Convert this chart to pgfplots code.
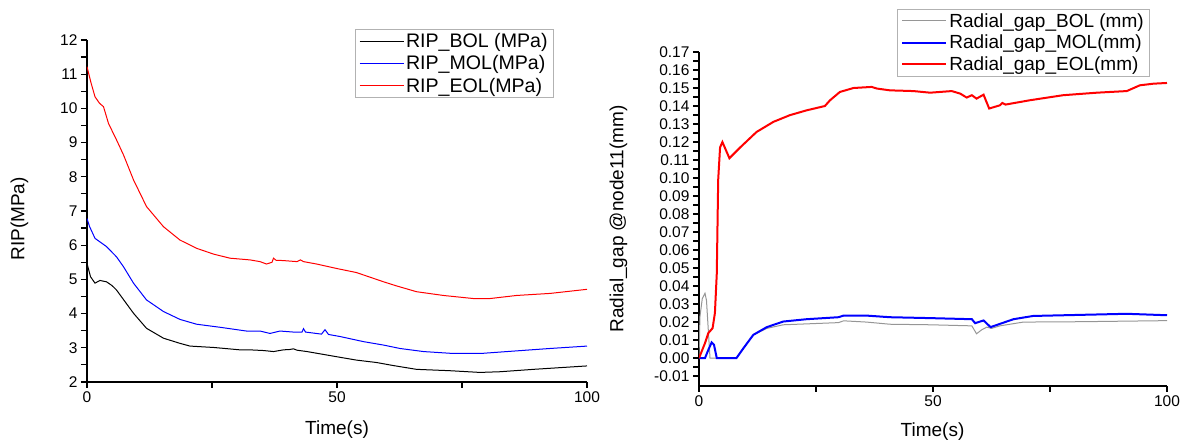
\documentclass[border=0pt]{standalone}
\usepackage{pgfplots}
\pgfplotsset{compat=1.18}
\usepackage{fontspec}
\setmainfont{Liberation Sans}
\newcommand{\tickfont}{\fontsize{15.5}{17}\selectfont}
\newcommand{\labfont}{\fontsize{19}{22}\selectfont}
\definecolor{bolgray}{RGB}{150,150,150}
\pgfplotsset{
 legend image code/.code={\draw[#1] (0pt,0pt) -- (44pt,0pt);},
 mystyle/.style={
  scale only axis,
  axis lines=left,
  axis line style={-, line width=1.2pt},
  tick align=outside,
  major tick length=6pt, minor tick length=6pt,
  tick style={black, line width=1.2pt},
  tick label style={font=\tickfont},
  /pgf/number format/assume math mode=true,
  xmin=0, xmax=100,
  xtick={0,25,50,75,100},
  xticklabels={0,,50,,100},
  label style={font=\labfont},
  legend cell align=left,
  legend style={draw=gray!60, line width=0.8pt, inner xsep=4pt, inner ysep=2pt, row sep=2.5pt},
 }
}
\begin{document}
\begin{tikzpicture}
\useasboundingbox (0,0) rectangle (1197pt,444pt);
\begin{axis}[mystyle,
  at={(87pt,62pt)}, anchor=south west,
  width=500pt, height=342pt,
  ymin=2, ymax=12, ytick={2,3,4,5,6,7,8,9,10,11,12},
  minor y tick num=1,
  xlabel={Time(s)}, ylabel={RIP(MPa)},
  xlabel style={at={(axis description cs:0.5,-0.14)}, anchor=center},
  ylabel style={at={(axis description cs:-0.135,0.477)}, anchor=center},
  legend style={at={(0.934,1.032)}, anchor=north east, font=\fontsize{19.6}{22}\selectfont},
]
\addplot[black, line width=1pt] coordinates {(0,5.47)(0.7,5.08)(1.6,4.89)(2.6,4.97)(3.2,4.95)(3.9,4.93)(5.0,4.82)(5.9,4.69)(7.6,4.35)(9.3,4.01)(11.9,3.57)(15.3,3.28)(18.6,3.13)(20.6,3.05)(25.3,3.01)(30.6,2.94)(32.6,2.94)(35.3,2.92)(37.3,2.89)(39.3,2.94)(40.5,2.95)(41.3,2.97)(42,2.93)(44,2.89)(49.9,2.74)(53.9,2.64)(57.9,2.57)(61.3,2.48)(65.9,2.37)(72.6,2.33)(78.6,2.28)(82.6,2.30)(89.3,2.37)(100,2.47)};
\addlegendentry{RIP\_BOL (MPa)}
\addplot[blue, line width=1pt] coordinates {(0,6.78)(0.5,6.55)(1.6,6.20)(3.9,5.96)(5.9,5.66)(7.3,5.37)(9.3,4.89)(11.9,4.40)(15.3,4.06)(18.6,3.83)(21.9,3.69)(26.6,3.60)(31.9,3.49)(34.6,3.49)(36.6,3.42)(38.6,3.49)(41.3,3.46)(43.0,3.46)(43.3,3.56)(43.7,3.46)(46.9,3.40)(47.6,3.53)(48.3,3.39)(50.6,3.33)(55.3,3.18)(59.3,3.08)(62.6,2.98)(67.3,2.89)(72.6,2.84)(79.3,2.84)(85.9,2.91)(92.6,2.98)(100,3.05)};
\addlegendentry{RIP\_MOL(MPa)}
\addplot[red, line width=1pt] coordinates {(0,11.22)(0.8,10.75)(1.6,10.34)(2.5,10.15)(3.3,10.05)(4.3,9.56)(5.9,9.08)(7.3,8.64)(9.3,7.91)(11.9,7.13)(15.3,6.54)(18.6,6.15)(21.9,5.91)(25.3,5.74)(28.6,5.62)(32.6,5.57)(34.6,5.52)(35.9,5.45)(37.0,5.50)(37.3,5.62)(37.8,5.56)(39.3,5.55)(42,5.52)(42.7,5.57)(43.3,5.52)(45.9,5.45)(49.9,5.32)(53.9,5.20)(59.3,4.93)(61.9,4.81)(65.9,4.64)(71.3,4.53)(77.3,4.44)(80.6,4.44)(85.9,4.53)(92.6,4.59)(100,4.71)};
\addlegendentry{RIP\_EOL(MPa)}
\end{axis}
\begin{axis}[mystyle,
  at={(699pt,58pt)}, anchor=south west,
  width=468pt, height=334pt,
  ymin=-0.0155, ymax=0.17,
  ytick={-0.01,0,0.01,0.02,0.03,0.04,0.05,0.06,0.07,0.08,0.09,0.10,0.11,0.12,0.13,0.14,0.15,0.16,0.17},
  minor y tick num=1,
  yticklabel style={/pgf/number format/.cd, fixed, fixed zerofill, precision=2},
  scaled y ticks=false,
  xlabel={Time(s)}, ylabel={Radial\_gap @node11(mm)},
  xlabel style={at={(axis description cs:0.499,-0.137)}, anchor=center},
  ylabel style={at={(axis description cs:-0.172,0.5)}, anchor=center},
  legend style={at={(0.964,1.129)}, anchor=north east, font=\fontsize{19}{21}\selectfont},
]
\addplot[bolgray, line width=1pt] coordinates {(0,0)(0.2,0.023)(0.7,0.033)(1.28,0.036)(1.6,0.032)(2.0,0.015)(2.35,0)(8.0,0)(9.5,0.0055)(11.6,0.0129)(14.5,0.0165)(18.0,0.0185)(23,0.019)(29.8,0.0197)(30.9,0.0207)(35.8,0.0200)(40.8,0.0188)(49.4,0.0185)(58.3,0.0179)(59.3,0.0135)(60.4,0.0157)(61.5,0.0172)(62.5,0.0165)(64.3,0.0179)(69.3,0.02)(81.4,0.0202)(100,0.0208)};
\addlegendentry{Radial\_gap\_BOL (mm)}
\addplot[blue, line width=2pt] coordinates {(0,0)(1.28,0)(2.0,0.0046)(2.7,0.0087)(3.2,0.0074)(3.8,0)(8.0,0)(9.5,0.0055)(11.6,0.0129)(14.5,0.0172)(18.0,0.0203)(23.0,0.0216)(29.8,0.0227)(30.9,0.0236)(35.8,0.0236)(40.8,0.0227)(49.4,0.0222)(58.3,0.0216)(59.0,0.0194)(60.8,0.0209)(62.3,0.0172)(64.3,0.019)(67.2,0.0216)(71.4,0.0234)(81.4,0.024)(91.4,0.0246)(100,0.0238)};
\addlegendentry{Radial\_gap\_MOL(mm)}
\addplot[red, line width=2pt] coordinates {(0,0)(1.28,0.0083)(2.0,0.0139)(2.9,0.0166)(3.4,0.025)(3.8,0.047)(4.1,0.099)(4.5,0.117)(5.0,0.120)(6.5,0.111)(8.8,0.117)(12.3,0.1256)(15.9,0.1312)(19.4,0.1349)(23.0,0.1376)(26.9,0.140)(28.0,0.1432)(30.1,0.1478)(33.0,0.150)(36.9,0.1506)(38,0.1497)(40.8,0.1487)(45.8,0.1483)(49.4,0.1474)(54.0,0.1483)(55.8,0.1469)(57.2,0.1447)(58.3,0.146)(59.3,0.1441)(60.8,0.1463)(62.0,0.1386)(64.3,0.1404)(64.8,0.1417)(65.5,0.1408)(70.7,0.1432)(77.8,0.146)(85.0,0.1474)(91.4,0.1483)(94.2,0.1515)(97.1,0.1524)(100,0.1528)};
\addlegendentry{Radial\_gap\_EOL(mm)}
\end{axis}
\end{tikzpicture}
\end{document}
